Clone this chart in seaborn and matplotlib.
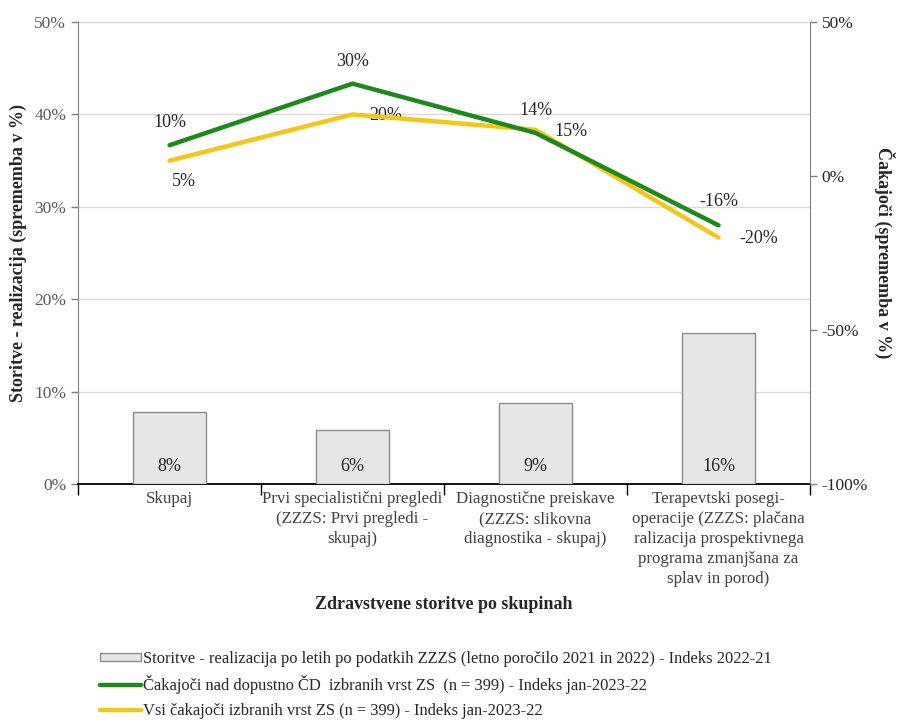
import matplotlib.pyplot as plt
import seaborn as sns
from matplotlib.patches import Patch
from matplotlib.lines import Line2D
from matplotlib.ticker import FixedLocator

# data
categories = [
    "Skupaj",
    "Prvi specialistični pregledi\n(ZZZS: Prvi pregledi -\nskupaj)",
    "Diagnostične preiskave\n(ZZZS: slikovna\ndiagnostika - skupaj)",
    "Terapevtski posegi-\noperacije (ZZZS: plačana\nralizacija prospektivnega\nprograma zmanjšana za\nsplav in porod)",
]
storitve = [7.8, 5.9, 8.8, 16.3]
cakajoci_nad = [10, 30, 14, -16]
vsi_cakajoci = [5, 20, 15, -20]
left_ticks = [0, 10, 20, 30, 40, 50]
right_ticks = [-100, -50, 0, 50]

legend_labels = [
    "Storitve - realizacija po letih po podatkih ZZZS (letno poročilo 2021 in 2022) - Indeks 2022-21",
    "Čakajoči nad dopustno ČD  izbranih vrst ZS  (n = 399) - Indeks jan-2023-22",
    "Vsi čakajoči izbranih vrst ZS (n = 399) - Indeks jan-2023-22",
]

GREEN = "#1b8a1b"
YELLOW = "#f5c518"
BAR = "#e6e6e6"

sns.set_style("white")
plt.rcParams['font.family'] = ['Liberation Serif', 'DejaVu Serif']
plt.rcParams['axes.unicode_minus'] = False

fig = plt.figure(figsize=(8.99, 7.22), dpi=100)
ax = fig.add_axes([0.0868, 0.3296, 0.8142, 0.6399])

sns.barplot(x=categories, y=storitve, ax=ax, color=BAR, saturation=1,
            edgecolor="#8c8c8c", linewidth=1, width=0.4, zorder=3)
ax.set_ylim(0, 50)
ax.set_xlim(-0.5, 3.5)
ax.set_yticks(left_ticks, labels=[f"{t}%" for t in left_ticks])
ax.grid(axis='y', color="#d9d9d9", linewidth=1, zorder=0)
ax.set_axisbelow(True)
for i, v in enumerate(storitve):
    ax.text(i, 1.0, f"{v:.0f}%", ha='center', va='bottom', fontsize=13, zorder=4)

# category labels centred, tick marks between categories
ax.xaxis.set_major_locator(FixedLocator([-0.5, 0.5, 1.5, 2.5, 3.5]))
ax.xaxis.set_minor_locator(FixedLocator([0, 1, 2, 3]))
ax.set_xticklabels([""] * 5)
ax.set_xticklabels(categories, minor=True, fontsize=12.2, color="#404040",
                   linespacing=1.33)
ax.tick_params(axis='x', which='major', length=8, width=1, color='black',
               direction='out', bottom=True)
ax.tick_params(axis='x', which='minor', length=0, pad=5)
ax.tick_params(axis='y', length=5, width=1, color="#808080", direction='out',
               left=True, labelsize=12.5, labelcolor="#595959")
ax.set_xlabel("")
ax.set_ylabel("")

for s in ['top', 'right']:
    ax.spines[s].set_visible(False)
ax.spines['left'].set_color("#808080")
ax.spines['bottom'].set_color("black")
ax.spines['bottom'].set_linewidth(1.3)

ax2 = ax.twinx()
sns.lineplot(x=categories, y=cakajoci_nad, ax=ax2, color=GREEN, linewidth=3.2,
             sort=False, zorder=5)
sns.lineplot(x=categories, y=vsi_cakajoci, ax=ax2, color=YELLOW, linewidth=3.2,
             sort=False, zorder=4)
ax2.set_ylim(-100, 50)
ax2.set_xlim(-0.5, 3.5)
ax2.set_yticks(right_ticks, labels=[f"{t}%" for t in right_ticks])
ax2.tick_params(axis='y', which='both', left=False, labelleft=False,
                right=True, labelright=True, length=5, width=1,
                color="#808080", direction='out', labelsize=12.5,
                labelcolor="#262626")
for s in ['top', 'left', 'bottom']:
    ax2.spines[s].set_visible(False)
ax2.spines['right'].set_color("#808080")
ax2.set_ylabel("")
ax2.grid(False)

green_offsets = [(0, 23), (0, 22), (0, 22), (0, 24)]
yellow_offsets = [(14, -21), (33, -1), (35, -2), (40, -1)]
for i, (v, off) in enumerate(zip(cakajoci_nad, green_offsets)):
    ax2.annotate(f"{v}%", (i, v), xytext=off, textcoords='offset pixels',
                 ha='center', va='center', fontsize=13)
for i, (v, off) in enumerate(zip(vsi_cakajoci, yellow_offsets)):
    ax2.annotate(f"{v}%", (i, v), xytext=off, textcoords='offset pixels',
                 ha='center', va='center', fontsize=13)

fig.text(0.02, 0.6496, "Storitve - realizacija (sprememba v %)", rotation=90,
         ha='center', va='center', fontsize=13, fontweight='bold')
fig.text(0.984, 0.6496, "Čakajoči (sprememba v %)", rotation=270,
         ha='center', va='center', fontsize=13, fontweight='bold')
fig.text(0.494, 0.1634, "Zdravstvene storitve po skupinah",
         ha='center', va='center', fontsize=13, fontweight='bold')

handles = [
    Patch(facecolor=BAR, edgecolor="#8c8c8c", linewidth=1),
    Line2D([], [], color=GREEN, linewidth=3.2),
    Line2D([], [], color=YELLOW, linewidth=3.2),
]
fig.legend(handles, legend_labels, loc='upper left',
           bbox_to_anchor=(100 / 899, 1 - 651 / 722), frameon=False,
           fontsize=11.9, handlelength=2.5, handleheight=0.3,
           handletextpad=0.1, labelspacing=0.5, borderaxespad=0,
           borderpad=0, labelcolor="#262626")

fig.savefig("out.png", dpi=100)
